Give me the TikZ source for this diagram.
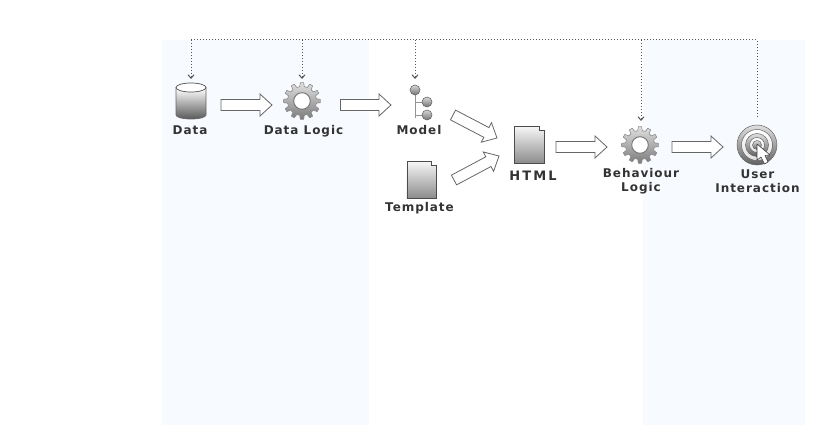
\documentclass[tikz,border=0pt]{standalone}
\usepackage{fontspec}
\newfontfamily\labelfont[LetterSpace=8]{DejaVu Sans Bold}
\newfontfamily\htmlfont[LetterSpace=16]{DejaVu Sans Bold}
\usetikzlibrary{calc,arrows.meta}

\definecolor{panelColor}{HTML}{F7FAFE}
\definecolor{busColor}{HTML}{555555}
\definecolor{edgeColor}{HTML}{666666}
\definecolor{textColor}{HTML}{333333}

\tikzset{
	iconBox/.style={inner sep=0pt, outer sep=0pt, minimum width=#1},
	iconLabel/.style={font=\labelfont\fontsize{12}{14}\selectfont, text=textColor, align=center, inner sep=0pt},
	busLine/.style={busColor, line width=1pt, dash pattern=on 1pt off 2pt},
	busDrop/.style={busLine, -{Straight Barb[length=3.5pt,width=6pt]}},
	blockArrow/.style={draw=edgeColor, fill=white, line width=0.8pt, line join=miter,
		to path={let \p1=($(\tikztotarget)!12pt!(\tikztostart)$) in
			-- ($(\tikztostart)!5.5pt!90:(\tikztotarget)$)
			-- ($(\p1)!5.5pt!90:(\tikztotarget)$)
			-- ($(\p1)!11pt!90:(\tikztotarget)$)
			-- (\tikztotarget)
			-- ($(\p1)!11pt!-90:(\tikztotarget)$)
			-- ($(\p1)!5.5pt!-90:(\tikztotarget)$)
			-- ($(\tikztostart)!5.5pt!-90:(\tikztotarget)$)
			-- cycle}},
	% Icons
	dbIcon/.pic={
		\path[draw=edgeColor, line width=0.7pt, top color=white, bottom color=black!65]
			(-15,-13) -- (-15,14) arc[x radius=15, y radius=4, start angle=180, end angle=0]
			-- (15,-13) -- cycle;
		\draw[edgeColor!80!black, fill=white, line width=0.7pt] (0,-13.5) ellipse (15 and 4.5);
	},
	gearIcon/.pic={
		\path[draw=black!45, line width=0.6pt, top color=black!12, bottom color=black!52, line join=round]
			(-12:14.5) \foreach \a in {0,30,...,330} {
				-- (\a-9:14.5) -- (\a-5:18.5) -- (\a+5:18.5) -- (\a+9:14.5)
			} -- cycle;
		\draw[black!55, fill=white, line width=0.9pt] (0,0) circle (8.3);
	},
	pageIcon/.pic={
		\path[draw=black!70, line width=0.7pt, top color=black!3, bottom color=black!45]
			(-15,-18.5) -- (10,-18.5) -- (10,-14.5) -- (15,-14.5) -- (15,18.5) -- (-15,18.5) -- cycle;
	},
	ballIcon/.style={draw=edgeColor, line width=0.6pt, top color=black!15, bottom color=black!55},
	targetRing/.style={draw=edgeColor, line width=0.5pt, top color=black!12, bottom color=black!62},
	targetGap/.style={draw=edgeColor, line width=0.5pt, top color=white, bottom color=black!12},
	treeIcon/.pic={
		\draw[edgeColor!70, line width=0.8pt] (0,-8) -- (0,16) (0,0) -- (8,0) (0,13) -- (8,13);
		\path[ballIcon] (0,-12) circle (5);
		\path[ballIcon] (12,0) circle (5);
		\path[ballIcon] (12,13) circle (5);
	},
	targetIcon/.pic={
		\path[targetRing] (0,0) circle (20);
		\path[targetGap] (0,0) circle (15.5);
		\path[targetRing] (0,0) circle (11.5);
		\path[targetGap] (0,0) circle (7.5);
		\path[targetRing] (0,0) circle (4.5);
		\draw[black!75, fill=white, line width=0.6pt, line join=round]
			(0,-1) -- (0,15) -- (4,12) -- (7.5,19) -- (11,17) -- (8,10.5) -- (13,10) -- cycle;
	},
}

\begin{document}
\begin{tikzpicture}[x=1pt, y=-1pt]
	\useasboundingbox (0,0) rectangle (813,425);
	
	% Background panels
	\fill[panelColor] (162,40) rectangle (369,425);
	\fill[panelColor] (643,40) rectangle (805,425);
	
	% Coordinates
	\coordinate (bus) at (191,40);
	
	% Icons
	\node[iconBox=30, minimum height=36] (data) at (191,101) {};
	\node[iconBox=37, minimum height=37] (dataLogic) at (302,101) {};
	\node[iconBox=28, minimum height=34] (model) at (415,102) {};
	\node[iconBox=29, minimum height=37] (template) at (421.5,179.5) {};
	\node[iconBox=31, minimum height=37] (html) at (529.5,144.5) {};
	\node[iconBox=37, minimum height=37] (behaviour) at (641,145) {};
	\node[iconBox=40, minimum height=40] (target) at (757,145) {};
	
	\pic at (data) {dbIcon};
	\pic at (dataLogic) {gearIcon};
	\pic at (model) {treeIcon};
	\pic[xscale=0.97] at (template) {pageIcon};
	\pic at (html) {pageIcon};
	\pic at ([xshift=-1pt]behaviour) {gearIcon};
	\pic at (target) {targetIcon};
	
	% Labels
	\node[iconLabel] (dataLabel) at (190,130) {Data};
	\node[iconLabel] (dataLogicLabel) at (303.5,131) {Data Logic};
	\node[iconLabel] (modelLabel) at (419,130) {Model};
	\node[iconLabel] (templateLabel) at (419.5,208.5) {Template};
	\node[iconLabel, font=\htmlfont\fontsize{13}{15}\selectfont] (htmlLabel) at (533,176) {HTML};
	\node[iconLabel] (behaviourLabel) at (641,181) {Behaviour\\Logic};
	\node[iconLabel] (targetLabel) at (757.5,181) {User\\Interaction};
	
	% Block arrows
	\draw[blockArrow] ([xshift=15pt,yshift=-4pt]data.east) to ([xshift=-11.5pt,yshift=-4pt]dataLogic.west);
	\draw[blockArrow] ([xshift=20pt,yshift=-4pt]dataLogic.east) to ([xshift=-10pt,yshift=-3pt]model.west);
	\draw[blockArrow] ([xshift=24pt,yshift=-13pt]model.east) to ([xshift=-17pt,yshift=6.5pt]html.west);
	\draw[blockArrow] ([xshift=18pt,yshift=-0.5pt]template.east) to ([xshift=-15pt,yshift=-11.5pt]html.west);
	\draw[blockArrow] ([xshift=11pt,yshift=-2.5pt]html.east) to ([xshift=-15.5pt,yshift=-2pt]behaviour.west);
	\draw[blockArrow] ([xshift=12.5pt,yshift=-2pt]behaviour.east) to ([xshift=-14pt,yshift=-2pt]target.west);
	
	% Dotted bus
	\draw[busLine] ([yshift=8pt]target.north) |- (bus);
	\draw[busDrop] (bus) -- ([yshift=4pt]data.north);
	\draw[busDrop] (dataLogic.north |- bus) -- ([yshift=3.5pt]dataLogic.north);
	\draw[busDrop] (model.north |- bus) -- ([yshift=6pt]model.north);
	\draw[busDrop] (behaviour.north |- bus) -- ([yshift=5.5pt]behaviour.north);
\end{tikzpicture}
\end{document}
